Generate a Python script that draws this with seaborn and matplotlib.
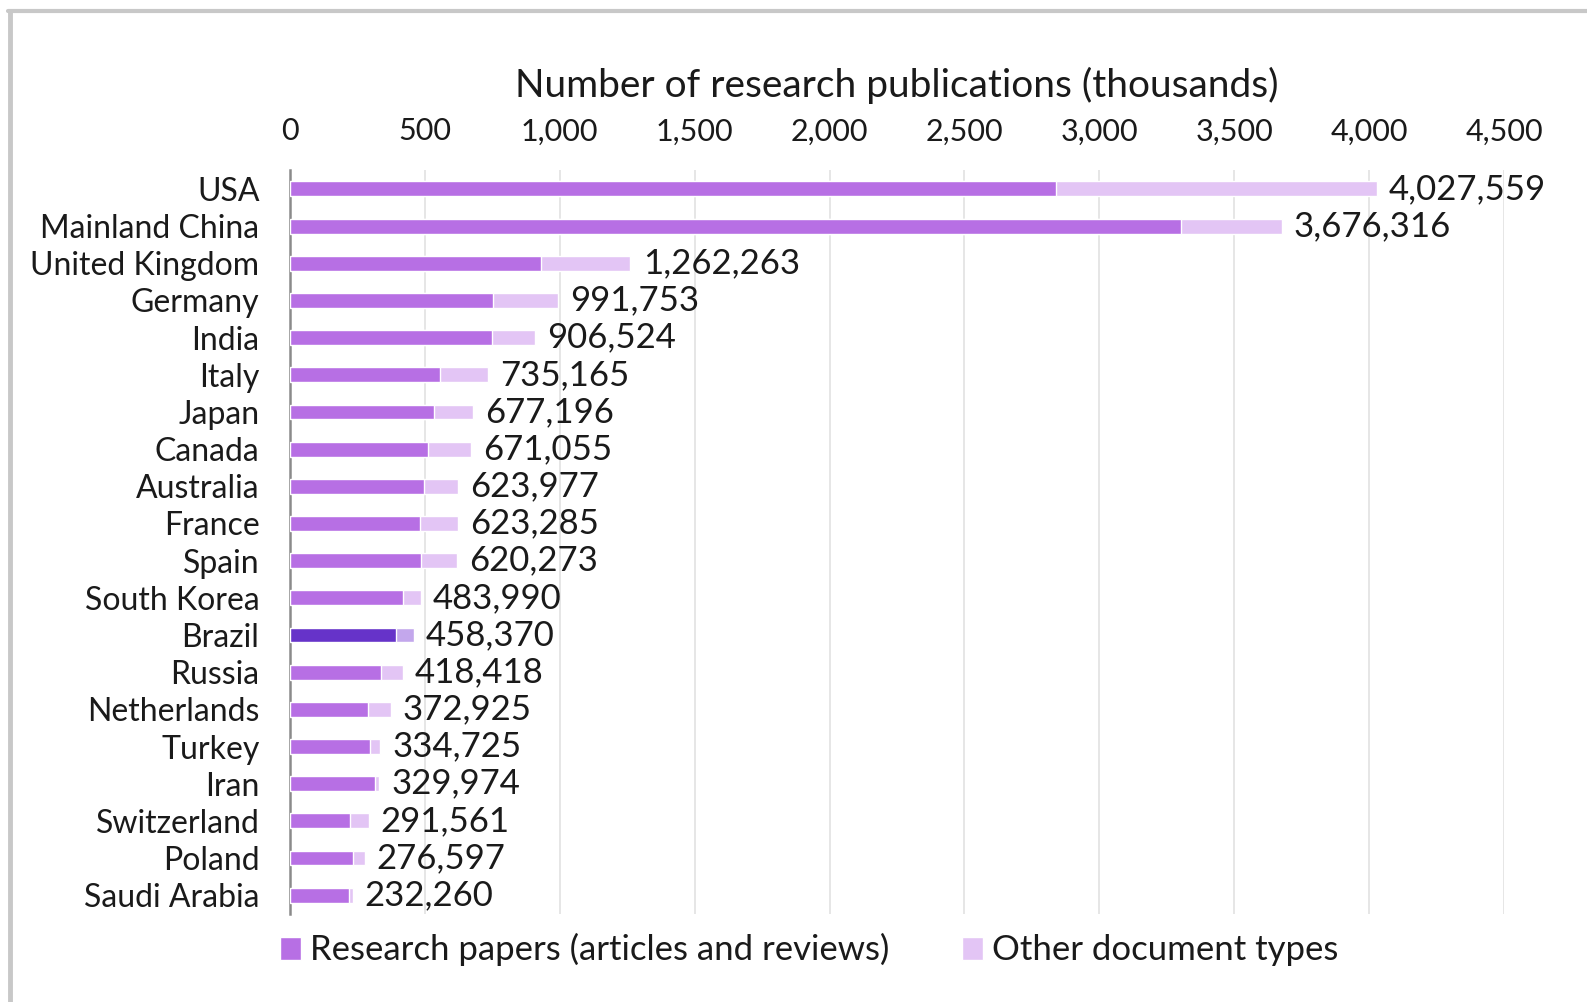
import matplotlib.pyplot as plt
import pandas as pd
import seaborn as sns
from matplotlib.lines import Line2D
from matplotlib.patches import Patch

countries = [
    "USA", "Mainland China", "United Kingdom", "Germany", "India", "Italy",
    "Japan", "Canada", "Australia", "France", "Spain", "South Korea", "Brazil",
    "Russia", "Netherlands", "Turkey", "Iran", "Switzerland", "Poland",
    "Saudi Arabia",
]
# total publications (exact, from labels)
totals = [
    4027559, 3676316, 1262263, 991753, 906524, 735165, 677196, 671055,
    623977, 623285, 620273, 483990, 458370, 418418, 372925, 334725, 329974,
    291561, 276597, 232260,
]
# research papers, thousands
research_k = [
    2840, 3304, 929, 752, 749, 556, 535, 512, 498, 481, 484, 419, 393, 339,
    291, 297, 315, 222, 235, 218,
]
highlight = "Brazil"

MAIN_DARK = "#B76FE4"
MAIN_LIGHT = "#E3C5F5"
HI_DARK = "#6633C9"
HI_LIGHT = "#C3A7EC"
TEXT = "#1a1a1a"

df = pd.DataFrame({
    "country": countries,
    "total": [t / 1000 for t in totals],
    "research": research_k,
})

sns.set_theme(style="white")
plt.rcParams["font.family"] = ["Lato", "DejaVu Sans"]

fig = plt.figure(figsize=(15.87, 10.02), dpi=100)
ax = fig.add_axes([0.1827, 0.088, 0.765, 0.742])

light_pal = {c: (HI_LIGHT if c == highlight else MAIN_LIGHT) for c in countries}
dark_pal = {c: (HI_DARK if c == highlight else MAIN_DARK) for c in countries}

sns.barplot(data=df, y="country", x="total", hue="country", palette=light_pal,
            orient="h", width=0.4, legend=False, ax=ax, zorder=2,
            saturation=1)
sns.barplot(data=df, y="country", x="research", hue="country", palette=dark_pal,
            orient="h", width=0.4, legend=False, ax=ax, zorder=3,
            saturation=1)

for i, t in enumerate(totals):
    ax.text(t / 1000 + 45, i, f"{t:,}", va="center", ha="left",
            fontsize=25, color=TEXT, zorder=4)

ax.set_xlim(0, 4500)
ax.set_ylim(19.5, -0.5)
ax.set_xticks(range(0, 4501, 500))
ax.set_xticklabels([f"{v:,}" for v in range(0, 4501, 500)])
ax.xaxis.tick_top()
ax.xaxis.set_label_position("top")
ax.set_xlabel("Number of research publications (thousands)", fontsize=28,
              color=TEXT, labelpad=15)
ax.set_ylabel("")
ax.tick_params(axis="x", labelsize=22, length=0, pad=18, colors=TEXT)
ax.tick_params(axis="y", labelsize=23, length=0, pad=22, colors=TEXT)
ax.grid(axis="x", color="#E2E2E2", linewidth=1.2, zorder=0)
ax.set_axisbelow(True)
for side in ["top", "right", "bottom"]:
    ax.spines[side].set_visible(False)
ax.spines["left"].set_color("#8a8a8a")
ax.spines["left"].set_linewidth(1.8)

handles = [
    Patch(facecolor=MAIN_DARK, label="Research papers (articles and reviews)"),
    Patch(facecolor=MAIN_LIGHT, label="Other document types"),
]
fig.legend(handles=handles, loc="center left", bbox_to_anchor=(0.157, 0.052),
           ncol=2, frameon=False, fontsize=25, handlelength=0.6,
           handleheight=0.65, handletextpad=0.25, columnspacing=2.1,
           labelcolor=TEXT)

# frame of the screenshot: left and top edges only
fig.add_artist(Line2D([0.0062, 0.0062], [0.0, 0.9895], transform=fig.transFigure,
                      color="#C8C8C8", linewidth=3.5))
fig.add_artist(Line2D([0.0052, 1.0], [0.9895, 0.9895], transform=fig.transFigure,
                      color="#C8C8C8", linewidth=3.0))

fig.savefig("out.png", dpi=100)
